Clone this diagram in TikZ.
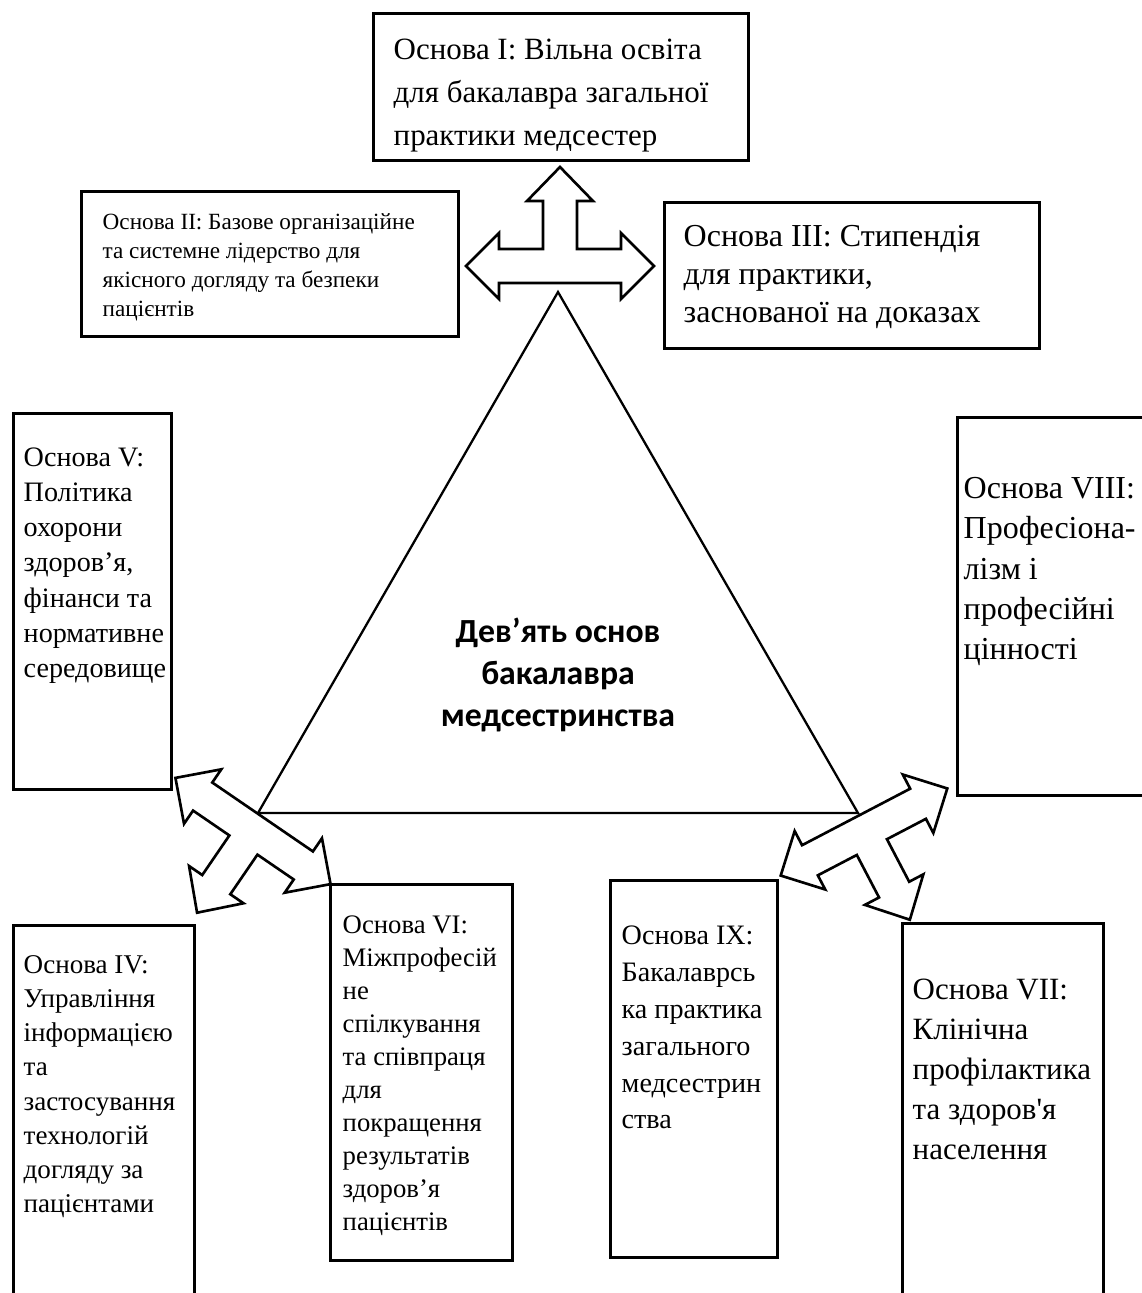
\documentclass[tikz,border=0pt]{standalone}
\usepackage{fontspec}
\setmainfont{Liberation Serif}[Ligatures=TeXOff]
\newfontfamily\titlefont{Carlito}

\newcommand{\fs}[2]{\fontsize{#1pt}{#2pt}\selectfont}

\tikzset{
  osnbox/.style={draw, line width=0.8pt, anchor=north west, inner sep=0pt},
  osntxt/.style={anchor=north west, align=left, inner sep=0pt},
  triarrow/.style={draw, line width=0.75pt, fill=white, line join=miter}
}

\begin{document}
\begin{tikzpicture}[x=0.01cm, y=-0.01cm]
  \useasboundingbox (0,0) rectangle (1142,1293);
  \clip (0,0) rectangle (1142,1293);

  % central triangle
  \draw[line width=0.65pt] (558,292) -- (258,813) -- (858,813) -- cycle;
  \node[anchor=north, align=center, inner sep=0pt,
        font=\titlefont\bfseries\fs{9.6}{12}] (title) at (558,617)
    {Дев’ять основ\\бакалавра\\медсестринства};

  % boxes
  \node[osnbox, minimum width=3.75cm, minimum height=1.47cm] (bI)    at (372,12)  {};
  \node[osnbox, minimum width=3.77cm, minimum height=1.45cm] (bII)   at (80,190)  {};
  \node[osnbox, minimum width=3.75cm, minimum height=1.46cm] (bIII)  at (663,201) {};
  \node[osnbox, minimum width=1.58cm, minimum height=3.76cm] (bV)    at (12,412)  {};
  \node[osnbox, minimum width=2.30cm, minimum height=3.78cm] (bVIII) at (956,416) {};
  \node[osnbox, minimum width=1.81cm, minimum height=4.00cm] (bIV)   at (12,924)  {};
  \node[osnbox, minimum width=1.82cm, minimum height=3.76cm] (bVI)   at (329,883) {};
  \node[osnbox, minimum width=1.67cm, minimum height=3.77cm] (bIX)   at (609,879) {};
  \node[osnbox, minimum width=2.01cm, minimum height=4.00cm] (bVII)  at (901,922) {};

  % texts
  \node[osntxt, font=\fs{8.8}{12.3}] (tI) at (393,38)
    {Основа I: Вільна освіта\\для бакалавра загальної\\практики медсестер};
  \node[osntxt, font=\fs{6.6}{8.25}] (tII) at (102,213)
    {Основа II: Базове організаційне\\та системне лідерство для\\якісного догляду та безпеки\\пацієнтів};
  \node[osntxt, font=\fs{9.1}{10.8}] (tIII) at (683,225)
    {Основа III: Стипендія\\для практики,\\заснованої на доказах};
  \node[osntxt, font=\fs{8}{10}] (tV) at (23,447)
    {Основа V:\\Політика\\охорони\\здоров’я,\\фінанси та\\нормативне\\середовище};
  \node[osntxt, font=\fs{9.1}{11.4}] (tVIII) at (963,477)
    {Основа VIII:\\Професіона-\\лізм і\\професійні\\цінності};
  \node[osntxt, font=\fs{7.7}{9.7}] (tIV) at (23,955)
    {Основа IV:\\Управління\\інформацією\\та\\застосування\\технологій\\догляду за\\пацієнтами};
  \node[osntxt, font=\fs{7.6}{9.4}] (tVI) at (342,915)
    {Основа VI:\\Міжпрофесій\\не\\спілкування\\та співпраця\\для\\покращення\\результатів\\здоров’я\\пацієнтів};
  \node[osntxt, font=\fs{8}{10.5}] (tIX) at (621,925)
    {Основа IX:\\Бакалаврсь\\ка практика\\загального\\медсестрин\\ства};
  \node[osntxt, font=\fs{8.8}{11.4}] (tVII) at (912,978)
    {Основа VII:\\Клінічна\\профілактика\\та здоров'я\\населення};

  % three-way block arrows
  \foreach \cx/\cy/\ang in {560/266/0, 253/831/145.6, 864/832/207.6}
    \draw[triarrow, shift={(\cx,\cy)}, rotate=\ang]
      (-94,0) -- (-61,-33) -- (-61,-17) -- (-17,-17) -- (-17,-65) -- (-33,-65)
      -- (0,-99) -- (33,-65) -- (17,-65) -- (17,-17) -- (61,-17) -- (61,-33)
      -- (94,0) -- (61,33) -- (61,17) -- (-61,17) -- (-61,33) -- cycle;
\end{tikzpicture}
\end{document}
